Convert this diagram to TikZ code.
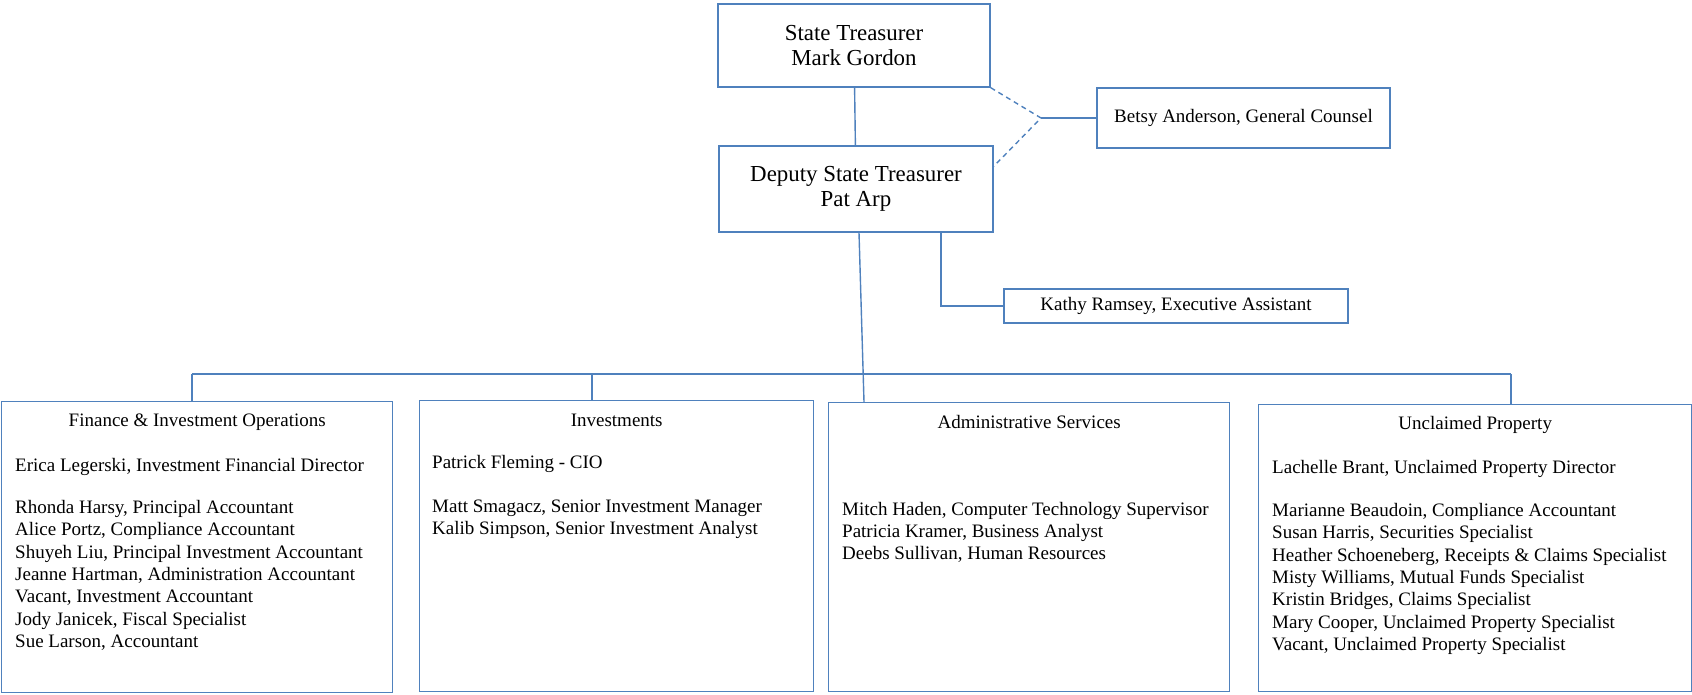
\documentclass[tikz,border=0pt]{standalone}
\usepackage{fontspec}
\setmainfont{Liberation Serif}
\usetikzlibrary{positioning}
\definecolor{orgblue}{RGB}{79,129,189}
\tikzset{
 orgline/.style={draw=orgblue,line width=1.4pt},
 topbox/.style={draw=orgblue,line width=1.4pt,align=center,inner sep=0pt,font=\fontsize{22.9}{24.8}\selectfont},
 sidebox/.style={draw=orgblue,line width=1.4pt,inner sep=0pt,font=\fontsize{19}{22.3}\selectfont},
 unitbox/.style={draw=orgblue,line width=1.4pt,anchor=north west,inner sep=0pt},
 unittitle/.style={inner sep=0pt,font=\fontsize{19}{22.3}\selectfont},
 stafflist/.style={inner sep=0pt,align=left,font=\fontsize{19}{22.3}\selectfont}
}
\begin{document}
\begin{tikzpicture}[x=1pt,y=1pt]
 \useasboundingbox (0,0) rectangle (1692,-694);
 \node[topbox,minimum width=272pt,minimum height=83pt] (st) at (854,-45.5) {State Treasurer\\Mark Gordon};
 \node[topbox,minimum width=274pt,minimum height=86pt] (dep) at (856,-189) {Deputy State Treasurer\\Pat Arp};
 \node[sidebox,minimum width=293pt,minimum height=60pt] (gc) at (1243.5,-118) {Betsy Anderson, General Counsel};
 \node[sidebox,minimum width=344pt,minimum height=34pt] (ea) at (1176,-306) {Kathy Ramsey, Executive Assistant};
 \node[unitbox,minimum width=391pt,minimum height=291pt] (fin) at (1,-401) {};
 \node[unitbox,minimum width=394pt,minimum height=291pt] (inv) at (419,-400) {};
 \node[unitbox,minimum width=401pt,minimum height=289pt] (adm) at (828,-402) {};
 \node[unitbox,minimum width=433pt,minimum height=287pt] (unc) at (1258,-404) {};
 \node[unittitle,below=12.5pt of fin.north] (fint) {Finance \& Investment Operations};
 \node[stafflist,below right=57pt and 14pt of fin.north west] (finl) {Erica Legerski, Investment Financial Director\\[20pt]
  Rhonda Harsy, Principal Accountant\\
  Alice Portz, Compliance Accountant\\
  Shuyeh Liu, Principal Investment Accountant\\
  Jeanne Hartman, Administration Accountant\\
  Vacant, Investment Accountant\\
  Jody Janicek, Fiscal Specialist\\
  Sue Larson, Accountant};
 \node[unittitle,below=13.5pt of inv.north] (invt) {Investments};
 \node[stafflist,below right=55pt and 13pt of inv.north west] (invl) {Patrick Fleming - CIO\\[22pt]
  Matt Smagacz, Senior Investment Manager\\
  Kalib Simpson, Senior Investment Analyst};
 \node[unittitle,below=13.5pt of adm.north] (admt) {Administrative Services};
 \node[stafflist,below right=100pt and 14pt of adm.north west] (adml) {Mitch Haden, Computer Technology Supervisor\\
  Patricia Kramer, Business Analyst\\
  Deebs Sullivan, Human Resources};
 \node[unittitle,below=12.5pt of unc.north] (unct) {Unclaimed Property};
 \node[stafflist,below right=56pt and 14pt of unc.north west] (uncl) {Lachelle Brant, Unclaimed Property Director\\[21pt]
  Marianne Beaudoin, Compliance Accountant\\
  Susan Harris, Securities Specialist\\
  Heather Schoeneberg, Receipts \& Claims Specialist\\
  Misty Williams, Mutual Funds Specialist\\
  Kristin Bridges, Claims Specialist\\
  Mary Cooper, Unclaimed Property Specialist\\
  Vacant, Unclaimed Property Specialist};
 \coordinate (gj) at (1041,-118);
 \coordinate (eaj) at (941,-306);
 \coordinate (busl) at (192,-374);
 \coordinate (busm) at (592,-374);
 \coordinate (busr) at (1511,-374);
 \draw[orgline] (st) -- (dep);
 \draw[orgline,dash pattern=on 5pt off 4pt] (st.south east) -- (gj) -- ([yshift=-21pt]dep.north east);
 \draw[orgline] (gj) -- (gc.west);
 \draw[orgline] (dep.south -| eaj) -- (eaj) -- (ea.west);
 \draw[orgline] ([xshift=3pt]dep.south) -- ([xshift=8pt]dep.south |- adm.north);
 \draw[orgline] (busl) -- (busr);
 \draw[orgline] (busl) -- (busl |- fin.north);
 \draw[orgline] (busm) -- (busm |- inv.north);
 \draw[orgline] (busr) -- (busr |- unc.north);
\end{tikzpicture}
\end{document}
